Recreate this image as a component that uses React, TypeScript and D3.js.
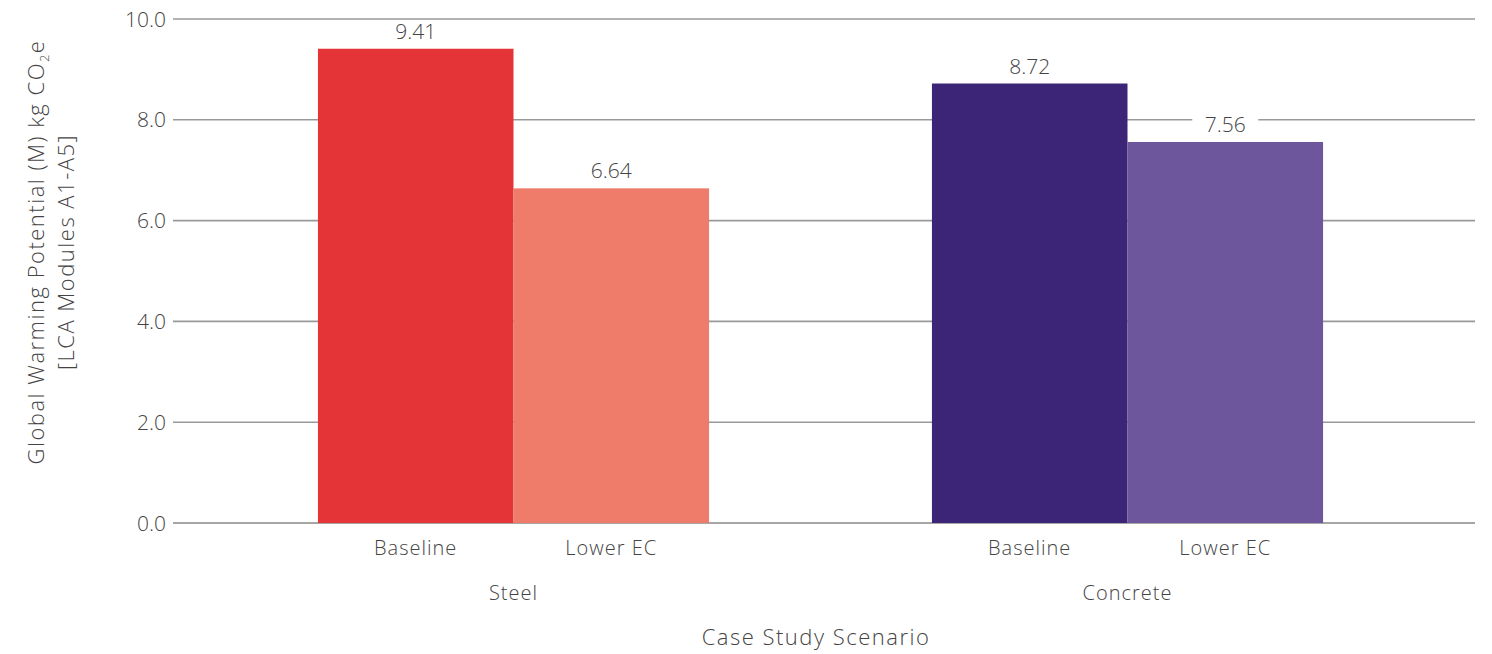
import React from "react";
import * as d3 from "d3";

const groups = ["Steel", "Concrete"];
const scenarios = ["Baseline", "Lower EC"];
const steelValues = [9.41, 6.64];
const concreteValues = [8.72, 7.56];
const yTicks = [0, 2, 4, 6, 8, 10];
const steelColors = ["#E53437", "#EF7B6A"];
const concreteColors = ["#3C2477", "#6D569C"];

const W = 1492;
const H = 654;
const FONT = "'Open Sans', sans-serif";
const TXT = "#444";
const FW = 300;

export default function App() {
  const y = d3.scaleLinear().domain([0, 10]).range([523, 19]);
  const x0 = d3
    .scaleBand<string>()
    .domain(groups)
    .range([206.5, 1434.5])
    .paddingInner(0.363)
    .paddingOuter(0.1815);
  const x1 = d3.scaleBand<string>().domain(scenarios).range([0, x0.bandwidth()]);

  const data = [
    { g: "Steel", values: steelValues, colors: steelColors },
    { g: "Concrete", values: concreteValues, colors: concreteColors },
  ];

  return (
    <svg width={W} height={H} style={{ position: "absolute", left: 0, top: 0, background: "#fff" }}>
      <rect width={W} height={H} fill="#fff" />
      {yTicks.map((t) => (
        <g key={t}>
          <line x1={173} x2={1475} y1={y(t)} y2={y(t)} stroke={t === 0 ? "#888" : "#999"} strokeWidth={1.6} />
          <text x={166} y={y(t)} dy="0.36em" textAnchor="end" fontFamily={FONT} fontWeight={FW} fontSize={21} fill={TXT}>
            {d3.format(".1f")(t)}
          </text>
        </g>
      ))}
      {data.map((d) => (
        <g key={d.g} transform={`translate(${x0(d.g)},0)`}>
          {d.values.map((v, i) => (
            <rect
              key={i}
              x={x1(scenarios[i])}
              y={y(v)}
              width={x1.bandwidth()}
              height={y(0) - y(v)}
              fill={d.colors[i]}
            />
          ))}
          {d.values.map((v, i) => {
            const cx = (x1(scenarios[i]) as number) + x1.bandwidth() / 2;
            return (
              <g key={"l" + i}>
                <rect x={cx - 33} y={y(v) - 28} width={66} height={20} fill="#fff" />
                <text x={cx} y={y(v) - 10} textAnchor="middle" fontFamily={FONT} fontWeight={FW} fontSize={21} fill={TXT}>
                  {v.toFixed(2)}
                </text>
              </g>
            );
          })}
          {scenarios.map((s) => (
            <text
              key={s}
              x={(x1(s) as number) + x1.bandwidth() / 2}
              y={555}
              textAnchor="middle"
              fontFamily={FONT}
              fontWeight={FW}
              fontSize={20}
              letterSpacing={1}
              fill={TXT}
            >
              {s}
            </text>
          ))}
          <text
            x={x0.bandwidth() / 2}
            y={600}
            textAnchor="middle"
            fontFamily={FONT}
            fontWeight={FW}
            fontSize={20}
            letterSpacing={1}
            fill={TXT}
          >
            {d.g}
          </text>
        </g>
      ))}
      <text x={816} y={645} textAnchor="middle" fontFamily={FONT} fontWeight={FW} fontSize={22} letterSpacing={1.5} fill={TXT}>
        Case Study Scenario
      </text>
      <g transform="translate(44,252) rotate(-90)">
        <text x={0} y={0} textAnchor="middle" fontFamily={FONT} fontWeight={FW} fontSize={22} letterSpacing={1.5} fill={TXT}>
          Global Warming Potential (M) kg CO
          <tspan fontSize={13} dy={5}>2</tspan>
          <tspan dy={-5}>e</tspan>
        </text>
        <text x={0} y={30} textAnchor="middle" fontFamily={FONT} fontWeight={FW} fontSize={22} letterSpacing={1.5} fill={TXT}>
          [LCA Modules A1-A5]
        </text>
      </g>
    </svg>
  );
}
